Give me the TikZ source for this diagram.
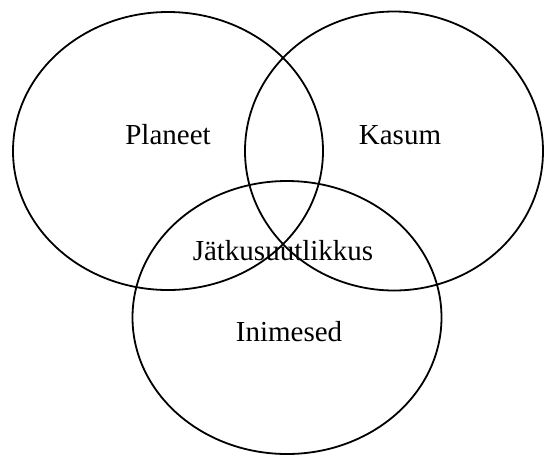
\documentclass[tikz,border=0pt]{standalone}
\usepackage{fontspec}
\setmainfont{Liberation Serif}
\usetikzlibrary{shapes.geometric}
\begin{document}
\begin{tikzpicture}[x=1pt,y=-1pt,
  circ/.style={draw=black,line width=1.8pt,ellipse,inner sep=0pt},
  lbl/.style={anchor=base,inner sep=0pt,font=\fontsize{29}{34}\selectfont}]
\useasboundingbox (0,0) rectangle (544,456);
\node[circ,minimum width=310pt,minimum height=278pt] (planet) at (168,151) {};
\node[circ,minimum width=298pt,minimum height=279pt] (kasum) at (394,151) {};
\node[circ,minimum width=309pt,minimum height=273pt] (inim) at (287,317.5) {};
\node[lbl] (tplanet) at (168,144) {Planeet};
\node[lbl] (tkasum) at (400,144) {Kasum};
\node[lbl] (tjat) at (283,260) {Jätkusuutlikkus};
\node[lbl] (tinim) at (289,341) {Inimesed};
\end{tikzpicture}
\end{document}
